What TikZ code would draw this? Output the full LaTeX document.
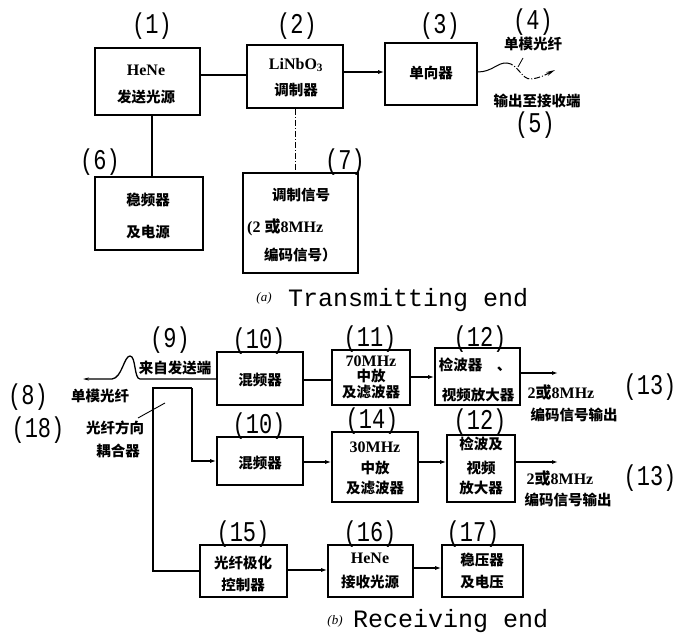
\documentclass[tikz,border=0pt]{standalone}
\usepackage{fontspec}
\setmainfont{Liberation Serif}
\newfontfamily\cjk{Noto Sans CJK SC}
\newfontfamily\monof{Liberation Mono}
\usetikzlibrary{arrows.meta}
\newcommand\zh[1]{{\cjk\bfseries #1}}
\newcommand\tallnum[1]{\scalebox{1}[1.3]{#1}}
\tikzset{
  box/.style={draw, line width=1.6pt, inner sep=0pt},
  num/.style={font=\monof\fontsize{22}{22}\selectfont, inner sep=0pt},
  ct/.style={font=\cjk\bfseries\fontsize{14.5}{14.5}\selectfont, inner sep=0pt},
  lt/.style={font=\bfseries\fontsize{16}{16}\selectfont, inner sep=0pt},
  captxt/.style={font=\monof\fontsize{25}{25}\selectfont, inner sep=0pt},
  capl/.style={font=\itshape\fontsize{13}{13}\selectfont, inner sep=0pt},
  conn/.style={line width=1.3pt},
  arr/.style={conn, -{Latex[length=6pt,width=4pt]}},
  dashdot/.style={line width=1pt, dash pattern=on 6pt off 2pt on 1pt off 2pt}
}
\begin{document}
\begin{tikzpicture}[x=1pt,y=-1pt]
\useasboundingbox (0,0) rectangle (684,636);
% ---------- (a) transmitting end ----------
\node[box, minimum width=105pt, minimum height=67pt] (b1) at (147.5,81.5) {};
\node[box, minimum width=96pt, minimum height=63pt] (b2) at (295,76.5) {};
\node[box, minimum width=92pt, minimum height=62pt] (b3) at (431,74) {};
\node[box, minimum width=108pt, minimum height=73pt] (b6) at (149,213.5) {};
\node[box, minimum width=115pt, minimum height=100pt] (b7) at (300.5,223) {};

\node[lt] (t1a) at (146,70) {HeNe};
\node[ct] (t1b) at (146,97) {发送光源};
\node[lt] (t2a) at (296,65) {LiNbO\textsubscript{3}};
\node[ct] (t2b) at (296,90) {调制器};
\node[ct] (t3) at (431,73) {单向器};
\node[ct] (t6a) at (148,200) {稳频器};
\node[ct] (t6b) at (148,232) {及电源};
\node[ct] (t7a) at (301,195) {调制信号};
\node[lt, anchor=west] (t7b) at (247,227) {(2 \zh{或}8MHz};
\node[ct, anchor=west] (t7c) at (264,255) {编码信号）};

\node[num] (n1) at (152,26) {\tallnum{(1)}};
\node[num] (n2) at (297,26) {\tallnum{(2)}};
\node[num] (n3) at (440,26) {\tallnum{(3)}};
\node[num] (n4) at (533,22) {\tallnum{(4)}};
\node[num] (n5) at (535,125) {\tallnum{(5)}};
\node[num] (n6) at (100,162) {\tallnum{(6)}};
\node[num] (n7) at (345,162) {\tallnum{(7)}};
\node[ct] (t4) at (533,44) {单模光纤};
\node[ct] (t5) at (537,101) {输出至接收端};

\draw[conn] (b1.east |- 0,75) -- (b2.west |- 0,75);
\draw[arr] (b2.east |- 0,72) -- (b3.west |- 0,72);
\draw[conn] (b1.south -| 152,0) -- (b6.north -| 152,0);
\draw[dashdot] (b2.south) -- (b7.north -| b2.south);

\coordinate (fa) at (507,63);
\coordinate (fb) at (555,70);
\draw[line width=1pt] (b3.east |- 0,72) .. controls (492,72) and (498,62) .. (fa);
\draw[dashdot, -{Stealth[length=9pt,width=4pt]}] (fa) .. controls (518,64) and (522,80) .. (531,79) .. controls (540,78) and (545,75) .. (fb);
\coordinate (tk1) at (523,58);
\coordinate (tk2) at (518,67);
\draw[line width=0.8pt] (tk1) -- (tk2);

\node[capl] (ca) at (264,298) {(\textit{a})};
\node[captxt, anchor=west] (cat) at (288,300) {Transmitting end};

% ---------- (b) receiving end ----------
\node[box, minimum width=86pt, minimum height=53pt] (b10a) at (260,378.5) {};
\node[box, minimum width=78pt, minimum height=55pt] (b11) at (371,377.5) {};
\node[box, minimum width=85pt, minimum height=57pt] (b12a) at (477.5,376.5) {};
\node[box, minimum width=86pt, minimum height=48pt] (b10b) at (260,461) {};
\node[box, minimum width=86pt, minimum height=70pt] (b14) at (375,467) {};
\node[box, minimum width=68pt, minimum height=67pt] (b12b) at (481,468.5) {};
\node[box, minimum width=87pt, minimum height=52pt] (b15) at (243.5,571) {};
\node[box, minimum width=85pt, minimum height=52pt] (b16) at (370.5,571) {};
\node[box, minimum width=81pt, minimum height=52pt] (b17) at (482.5,571) {};

\node[ct] (t10a) at (260,380) {混频器};
\node[lt] (t11a) at (371,361) {70MHz};
\node[ct] (t11b) at (371,376) {中放};
\node[ct] (t11c) at (371,392) {及滤波器};
\node[ct] (t12a) at (475,365) {检波器\hspace{1em}、};
\node[ct] (t12b) at (478,395) {视频放大器};
\node[ct] (t10b) at (260,463) {混频器};
\node[lt] (t14a) at (375,447) {30MHz};
\node[ct] (t14b) at (375,468) {中放};
\node[ct] (t14c) at (375,488) {及滤波器};
\node[ct] (t12c) at (481,444) {检波及};
\node[ct] (t12d) at (481,468) {视频};
\node[ct] (t12e) at (481,488) {放大器};
\node[ct] (t15a) at (243,563) {光纤极化};
\node[ct] (t15b) at (243,585) {控制器};
\node[lt] (t16a) at (370,558) {HeNe};
\node[ct] (t16b) at (370,582) {接收光源};
\node[ct] (t17a) at (482,560) {稳压器};
\node[ct] (t17b) at (482,582) {及电压};

\node[num] (n8) at (28,397) {\tallnum{(8)}};
\node[num] (n9) at (170,340) {\tallnum{(9)}};
\node[num] (n10a) at (259,341) {\tallnum{(10)}};
\node[num] (n11) at (370,339) {\tallnum{(11)}};
\node[num] (n12a) at (480,339) {\tallnum{(12)}};
\node[num] (n13a) at (650,387) {\tallnum{(13)}};
\node[num] (n18) at (38,430) {\tallnum{(18)}};
\node[num] (n10b) at (259,426) {\tallnum{(10)}};
\node[num] (n14) at (372,421) {\tallnum{(14)}};
\node[num] (n12b) at (480,422) {\tallnum{(12)}};
\node[num] (n13b) at (650,478) {\tallnum{(13)}};
\node[num] (n15) at (243,534) {\tallnum{(15)}};
\node[num] (n16) at (370,534) {\tallnum{(16)}};
\node[num] (n17) at (473,534) {\tallnum{(17)}};

\node[ct] (t9) at (175,368) {来自发送端};
\node[ct] (t8) at (100,396) {单模光纤};
\node[ct] (t18a) at (115,428) {光纤方向};
\node[ct] (t18b) at (118,451) {耦合器};
\node[lt] (t13a) at (561,392) {2\zh{或}8MHz};
\node[ct] (t13b) at (574,415) {编码信号输出};
\node[lt] (t13c) at (560,478) {2\zh{或}8MHz};
\node[ct] (t13d) at (568,500) {编码信号输出};

% fibre
\coordinate (f0) at (83,379);
\draw[conn, {Stealth[length=6pt,width=3pt]}-] (f0) -- (112,379) .. controls (122,378) and (124,356) .. (130,356) .. controls (136,356) and (134,379) .. (140,379) -- (b10a.west |- 0,379);

% coupler
\coordinate (c1) at (153,388);
\coordinate (c2) at (192,388);
\draw[conn] (b15.west) -| (c1) -- (c2);
\draw[arr] (c2) |- (b10b.west);
\coordinate (p1) at (138,418);
\coordinate (p2) at (165,403);
\draw[line width=0.9pt] (p1) -- (p2);

% signal chain
\draw[conn] (b10a.east |- 0,380) -- (b11.west |- 0,380);
\draw[arr] (b11.east |- 0,377) -- (b12a.west |- 0,377);
\coordinate (o1) at (558,373);
\draw[arr] (b12a.east |- o1) -- (o1);
\draw[arr] (b10b.east |- 0,462) -- (b14.west |- 0,462);
\draw[arr] (b14.east |- 0,462) -- (b12b.west |- 0,462);
\coordinate (o2) at (558,462);
\draw[arr] (b12b.east |- o2) -- (o2);
\draw[arr] (b15.east |- 0,570) -- (b16.west |- 0,570);
\draw[arr] (b16.east |- 0,568) -- (b17.west |- 0,568);

\node[capl] (cb) at (335,621) {(\textit{b})};
\node[captxt, anchor=west] (cbt) at (353,621) {Receiving end};
\end{tikzpicture}
\end{document}
